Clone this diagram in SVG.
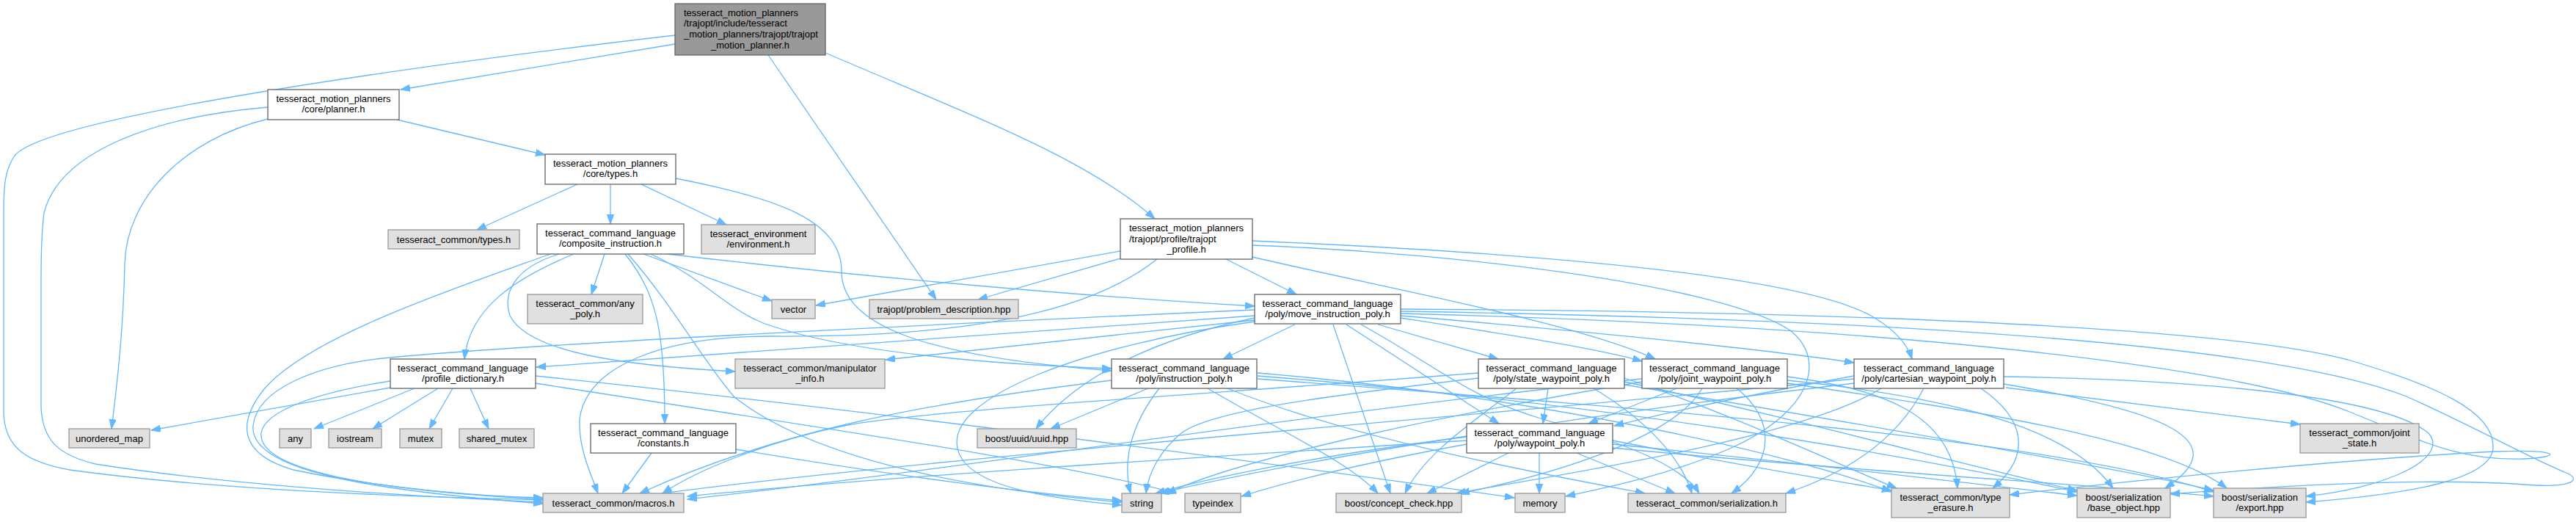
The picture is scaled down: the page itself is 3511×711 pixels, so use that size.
<svg xmlns="http://www.w3.org/2000/svg" width="3511" height="711" viewBox="0 0 3511 711">
<defs>
<marker id="a" markerUnits="userSpaceOnUse" markerWidth="14" markerHeight="10" refX="13" refY="4.65" orient="auto">
<path d="M0,0 L13,4.65 L0,9.3 z" fill="#63b8ff" stroke="#63b8ff" stroke-width="1"/>
</marker>
</defs>
<style>
rect.n{fill:#ffffff;stroke:#666666;stroke-width:1.3}
rect.x{fill:#e0e0e0;stroke:#999999;stroke-width:1.3}
rect.m{fill:#999999;stroke:#666666;stroke-width:1.3}
text{font-family:"Liberation Sans",Arial,sans-serif;font-size:13px;fill:#000;text-anchor:middle}
text.l{text-anchor:start}
#edges path{fill:none;stroke:#63b8ff;stroke-width:1.3;marker-end:url(#a)}
</style>
<rect width="3511" height="711" fill="#ffffff"/>
<g id="edges">
<path d="M920,60 L546,122"/>
<path d="M920,48 C560,90 60,160 20,212 C6,232 5,255 5,290 L5,560 C5,612 40,630 95,640 C300,668 560,677 740,681"/>
<path d="M1047,75 L1276,408"/>
<path d="M1125,72 C1330,160 1480,215 1574,298"/>
<path d="M541,163 L743,211"/>
<path d="M365,162 C250,190 172,270 170,360 C168,450 160,520 152,584"/>
<path d="M365,146 C200,160 80,210 60,290 C56,320 56,350 56,380 L56,555 C58,600 80,620 130,632 C320,662 560,676 740,684"/>
<path d="M787,251 L650,313"/>
<path d="M832,251 L832,305"/>
<path d="M874,251 L990,306"/>
<path d="M921,243 C1060,270 1147,300 1147,370 C1147,440 1250,485 1515,505"/>
<path d="M824,346 L806,401"/>
<path d="M852,346 C895,400 906,450 906,577"/>
<path d="M877,346 L1052,410"/>
<path d="M910,346 C1200,380 1500,405 1710,417"/>
<path d="M887,346 C960,380 990,420 1040,440 C1150,480 1350,496 1515,502"/>
<path d="M856,346 C920,420 950,480 1000,540 C1100,620 1300,665 1529,684"/>
<path d="M782,346 C700,380 640,420 633,489"/>
<path d="M750,346 C600,400 420,460 360,530 C320,580 330,620 400,640 C520,665 650,676 740,678"/>
<path d="M762,346 C700,365 685,400 695,430 C720,480 850,498 1002,506"/>
<path d="M1527,342 L1112,416"/>
<path d="M1527,352 L1333,408"/>
<path d="M1577,353 C1480,430 1300,460 1050,458 C900,458 800,500 790,570 C788,610 805,645 815,672"/>
<path d="M1671,353 L1767,401"/>
<path d="M1707,350 C1900,395 2150,440 2256,489"/>
<path d="M1707,328 C2100,345 2450,375 2550,430 C2585,450 2600,470 2606,489"/>
<path d="M1707,334 C2000,345 2350,390 2440,450 C2490,490 2470,560 2360,610 C2280,645 2200,662 2134,676"/>
<path d="M1765,442 L1667,489"/>
<path d="M1710,430 L731,500"/>
<path d="M1710,436 L1207,490"/>
<path d="M1710,422 C1200,445 700,470 522,488 C430,498 350,530 345,580 C340,640 500,668 740,686"/>
<path d="M1710,433 C1580,460 1470,510 1412,584"/>
<path d="M1710,438 C1480,470 1290,540 1305,610 C1315,665 1440,680 1529,688"/>
<path d="M1817,442 L1895,672"/>
<path d="M1835,442 L2043,577"/>
<path d="M1855,442 C1960,500 2000,540 2100,570 C2200,600 2290,630 2316,672"/>
<path d="M1878,442 L2042,489"/>
<path d="M1909,433 C2050,455 2180,475 2238,492"/>
<path d="M1909,430 C2150,450 2400,475 2527,494"/>
<path d="M1909,421 C2600,425 3050,450 3200,490 C3320,525 3400,560 3398,610 C3396,650 3300,672 3143,684"/>
<path d="M1909,424 C2600,435 3100,470 3280,540 C3380,585 3450,625 3500,645 C3520,655 3500,665 3440,660 C3300,650 3100,662 2958,673"/>
<path d="M1909,427 C2600,445 3050,500 3200,560 C3300,600 3350,628 3440,625 C3495,622 3490,612 3400,615 C3200,625 2900,655 2739,674"/>
<path d="M1515,518 C1250,550 1050,590 872,672"/>
<path d="M1565,529 L1432,584"/>
<path d="M1580,529 C1540,580 1530,630 1541,672"/>
<path d="M1646,529 C1750,590 1840,630 1878,672"/>
<path d="M1673,529 C1850,600 2100,645 2242,672"/>
<path d="M1714,508 C2100,540 2450,620 2578,670"/>
<path d="M1714,512 C2200,550 2600,620 2831,670"/>
<path d="M1714,516 C2300,560 2800,600 3017,670"/>
<path d="M532,519 C430,535 360,560 356,590 C352,630 450,665 740,680"/>
<path d="M532,528 L206,586"/>
<path d="M565,529 L428,584"/>
<path d="M597,529 L508,584"/>
<path d="M617,529 L585,584"/>
<path d="M641,529 L666,584"/>
<path d="M730,522 C1100,580 1450,630 1603,672"/>
<path d="M730,512 C1200,560 1800,640 2064,678"/>
<path d="M888,617 L848,672"/>
<path d="M1003,612 C1200,645 1400,672 1529,682"/>
<path d="M1999,600 C1600,625 1200,650 937,676"/>
<path d="M1999,595 C1800,620 1650,650 1575,672"/>
<path d="M1999,605 C1850,632 1750,658 1692,676"/>
<path d="M2056,617 L1945,672"/>
<path d="M2098,617 L2098,672"/>
<path d="M2149,617 L2283,672"/>
<path d="M2198,600 C2350,630 2500,655 2578,668"/>
<path d="M2198,605 C2450,630 2700,660 2831,675"/>
<path d="M2198,610 C2500,640 2850,660 3017,676"/>
<path d="M2015,508 C1600,540 1250,560 1150,580 C1050,600 950,640 903,672"/>
<path d="M2015,515 C1800,540 1650,560 1610,590 C1580,615 1565,645 1562,672"/>
<path d="M2067,529 C2000,580 1940,620 1915,672"/>
<path d="M2110,529 L2103,577"/>
<path d="M2172,529 C2240,570 2290,620 2306,672"/>
<path d="M2214,515 C2350,560 2500,630 2585,665"/>
<path d="M2214,520 C2450,570 2700,640 2831,668"/>
<path d="M2214,524 C2550,580 2900,640 3017,668"/>
<path d="M2238,516 C1800,560 1300,640 937,680"/>
<path d="M2238,520 C2000,560 1700,620 1590,672"/>
<path d="M2320,529 C2280,600 2100,650 1990,672"/>
<path d="M2285,529 L2165,577"/>
<path d="M2367,529 C2420,570 2420,630 2360,672"/>
<path d="M2436,513 C2560,530 2660,560 2668,665"/>
<path d="M2436,518 C2650,540 2820,580 2880,665"/>
<path d="M2436,522 C2700,560 2950,600 3035,665"/>
<path d="M2527,516 C2100,560 1300,620 902,672"/>
<path d="M2527,522 C2200,560 1800,620 1580,672"/>
<path d="M2564,529 C2450,600 2100,650 1985,672"/>
<path d="M2527,512 C2400,535 2280,560 2200,580"/>
<path d="M2622,529 C2580,610 2500,650 2434,672"/>
<path d="M2700,529 C2760,570 2770,620 2716,665"/>
<path d="M2731,523 C2950,560 3050,600 2951,665"/>
<path d="M2731,513 C3000,517 3250,540 3310,590 C3340,625 3250,665 3143,676"/>
<path d="M2734,528 L3135,578"/>
</g>
<g id="main"><rect class="m" x="920" y="5" width="205" height="70"/><text class="l" x="932" y="21.5">tesseract_motion_planners</text><text class="l" x="932" y="36.2">/trajopt/include/tesseract</text><text class="l" x="932" y="50.9">_motion_planners/trajopt/trajopt</text><text x="1022.5" y="65.6">_motion_planner.h</text></g>
<g id="planner"><rect class="n" x="365" y="122" width="179" height="41"/><text x="454.5" y="138.5">tesseract_motion_planners</text><text x="454.5" y="153">/core/planner.h</text></g>
<g id="coretypes"><rect class="n" x="743" y="210" width="178" height="41"/><text x="832" y="226.5">tesseract_motion_planners</text><text x="832" y="241">/core/types.h</text></g>
<g id="commontypes"><rect class="x" x="529" y="313" width="179" height="26"/><text x="618.5" y="330.5">tesseract_common/types.h</text></g>
<g id="composite"><rect class="n" x="732" y="305" width="200" height="41"/><text x="832" y="321.5">tesseract_command_language</text><text x="832" y="336">/composite_instruction.h</text></g>
<g id="environment"><rect class="x" x="956" y="306" width="155" height="40"/><text x="1033.5" y="322.5">tesseract_environment</text><text x="1033.5" y="337">/environment.h</text></g>
<g id="trajoptprofile"><rect class="n" x="1527" y="298" width="180" height="55"/><text class="l" x="1539" y="315">tesseract_motion_planners</text><text class="l" x="1539" y="329.7">/trajopt/profile/trajopt</text><text x="1617" y="344.4">_profile.h</text></g>
<g id="anypoly"><rect class="x" x="719" y="401" width="157" height="40"/><text x="797.5" y="417.5">tesseract_common/any</text><text x="797.5" y="432">_poly.h</text></g>
<g id="vector"><rect class="x" x="1052" y="408" width="59" height="26"/><text x="1081.5" y="425.5">vector</text></g>
<g id="problemdesc"><rect class="x" x="1185" y="408" width="203" height="26"/><text x="1286.5" y="425.5">trajopt/problem_description.hpp</text></g>
<g id="moveinstr"><rect class="n" x="1710" y="401" width="199" height="40"/><text x="1809.5" y="417.5">tesseract_command_language</text><text x="1809.5" y="432">/poly/move_instruction_poly.h</text></g>
<g id="profiledict"><rect class="n" x="532" y="489" width="198" height="40"/><text x="631" y="505.5">tesseract_command_language</text><text x="631" y="520">/profile_dictionary.h</text></g>
<g id="manipinfo"><rect class="x" x="1002" y="489" width="204" height="40"/><text x="1104" y="505.5">tesseract_common/manipulator</text><text x="1104" y="520">_info.h</text></g>
<g id="instrpoly"><rect class="n" x="1515" y="489" width="198" height="40"/><text x="1614" y="505.5">tesseract_command_language</text><text x="1614" y="520">/poly/instruction_poly.h</text></g>
<g id="statewp"><rect class="n" x="2015" y="489" width="199" height="40"/><text x="2114.5" y="505.5">tesseract_command_language</text><text x="2114.5" y="520">/poly/state_waypoint_poly.h</text></g>
<g id="jointwp"><rect class="n" x="2238" y="489" width="198" height="40"/><text x="2337" y="505.5">tesseract_command_language</text><text x="2337" y="520">/poly/joint_waypoint_poly.h</text></g>
<g id="cartwp"><rect class="n" x="2527" y="489" width="204" height="40"/><text x="2629" y="505.5">tesseract_command_language</text><text x="2629" y="520">/poly/cartesian_waypoint_poly.h</text></g>
<g id="unorderedmap"><rect class="x" x="94" y="584" width="110" height="26"/><text x="149" y="601.5">unordered_map</text></g>
<g id="any"><rect class="x" x="381" y="584" width="43" height="26"/><text x="402.5" y="601.5">any</text></g>
<g id="iostream"><rect class="x" x="448" y="584" width="72" height="26"/><text x="484" y="601.5">iostream</text></g>
<g id="mutex"><rect class="x" x="545" y="584" width="57" height="26"/><text x="573.5" y="601.5">mutex</text></g>
<g id="sharedmutex"><rect class="x" x="626" y="584" width="102" height="26"/><text x="677" y="601.5">shared_mutex</text></g>
<g id="constants"><rect class="n" x="805" y="577" width="198" height="40"/><text x="904" y="593.5">tesseract_command_language</text><text x="904" y="608">/constants.h</text></g>
<g id="uuid"><rect class="x" x="1332" y="584" width="135" height="26"/><text x="1399.5" y="601.5">boost/uuid/uuid.hpp</text></g>
<g id="waypointpoly"><rect class="n" x="1999" y="577" width="199" height="40"/><text x="2098.5" y="593.5">tesseract_command_language</text><text x="2098.5" y="608">/poly/waypoint_poly.h</text></g>
<g id="jointstate"><rect class="x" x="3135" y="577" width="162" height="40"/><text x="3216" y="593.5">tesseract_common/joint</text><text x="3216" y="608">_state.h</text></g>
<g id="macros"><rect class="x" x="740" y="672" width="192" height="26"/><text x="836" y="689.5">tesseract_common/macros.h</text></g>
<g id="string"><rect class="x" x="1529" y="672" width="54" height="26"/><text x="1556" y="689.5">string</text></g>
<g id="typeindex"><rect class="x" x="1615" y="672" width="76" height="26"/><text x="1653" y="689.5">typeindex</text></g>
<g id="conceptcheck"><rect class="x" x="1821" y="672" width="171" height="26"/><text x="1906.5" y="689.5">boost/concept_check.hpp</text></g>
<g id="memory"><rect class="x" x="2065" y="672" width="68" height="26"/><text x="2099" y="689.5">memory</text></g>
<g id="serialization"><rect class="x" x="2219" y="672" width="215" height="26"/><text x="2326.5" y="689.5">tesseract_common/serialization.h</text></g>
<g id="typeerasure"><rect class="x" x="2578" y="665" width="161" height="40"/><text x="2658.5" y="681.5">tesseract_common/type</text><text x="2658.5" y="696">_erasure.h</text></g>
<g id="baseobject"><rect class="x" x="2831" y="665" width="127" height="40"/><text x="2894.5" y="681.5">boost/serialization</text><text x="2894.5" y="696">/base_object.hpp</text></g>
<g id="export"><rect class="x" x="3017" y="665" width="126" height="40"/><text x="3080" y="681.5">boost/serialization</text><text x="3080" y="696">/export.hpp</text></g>
</svg>
